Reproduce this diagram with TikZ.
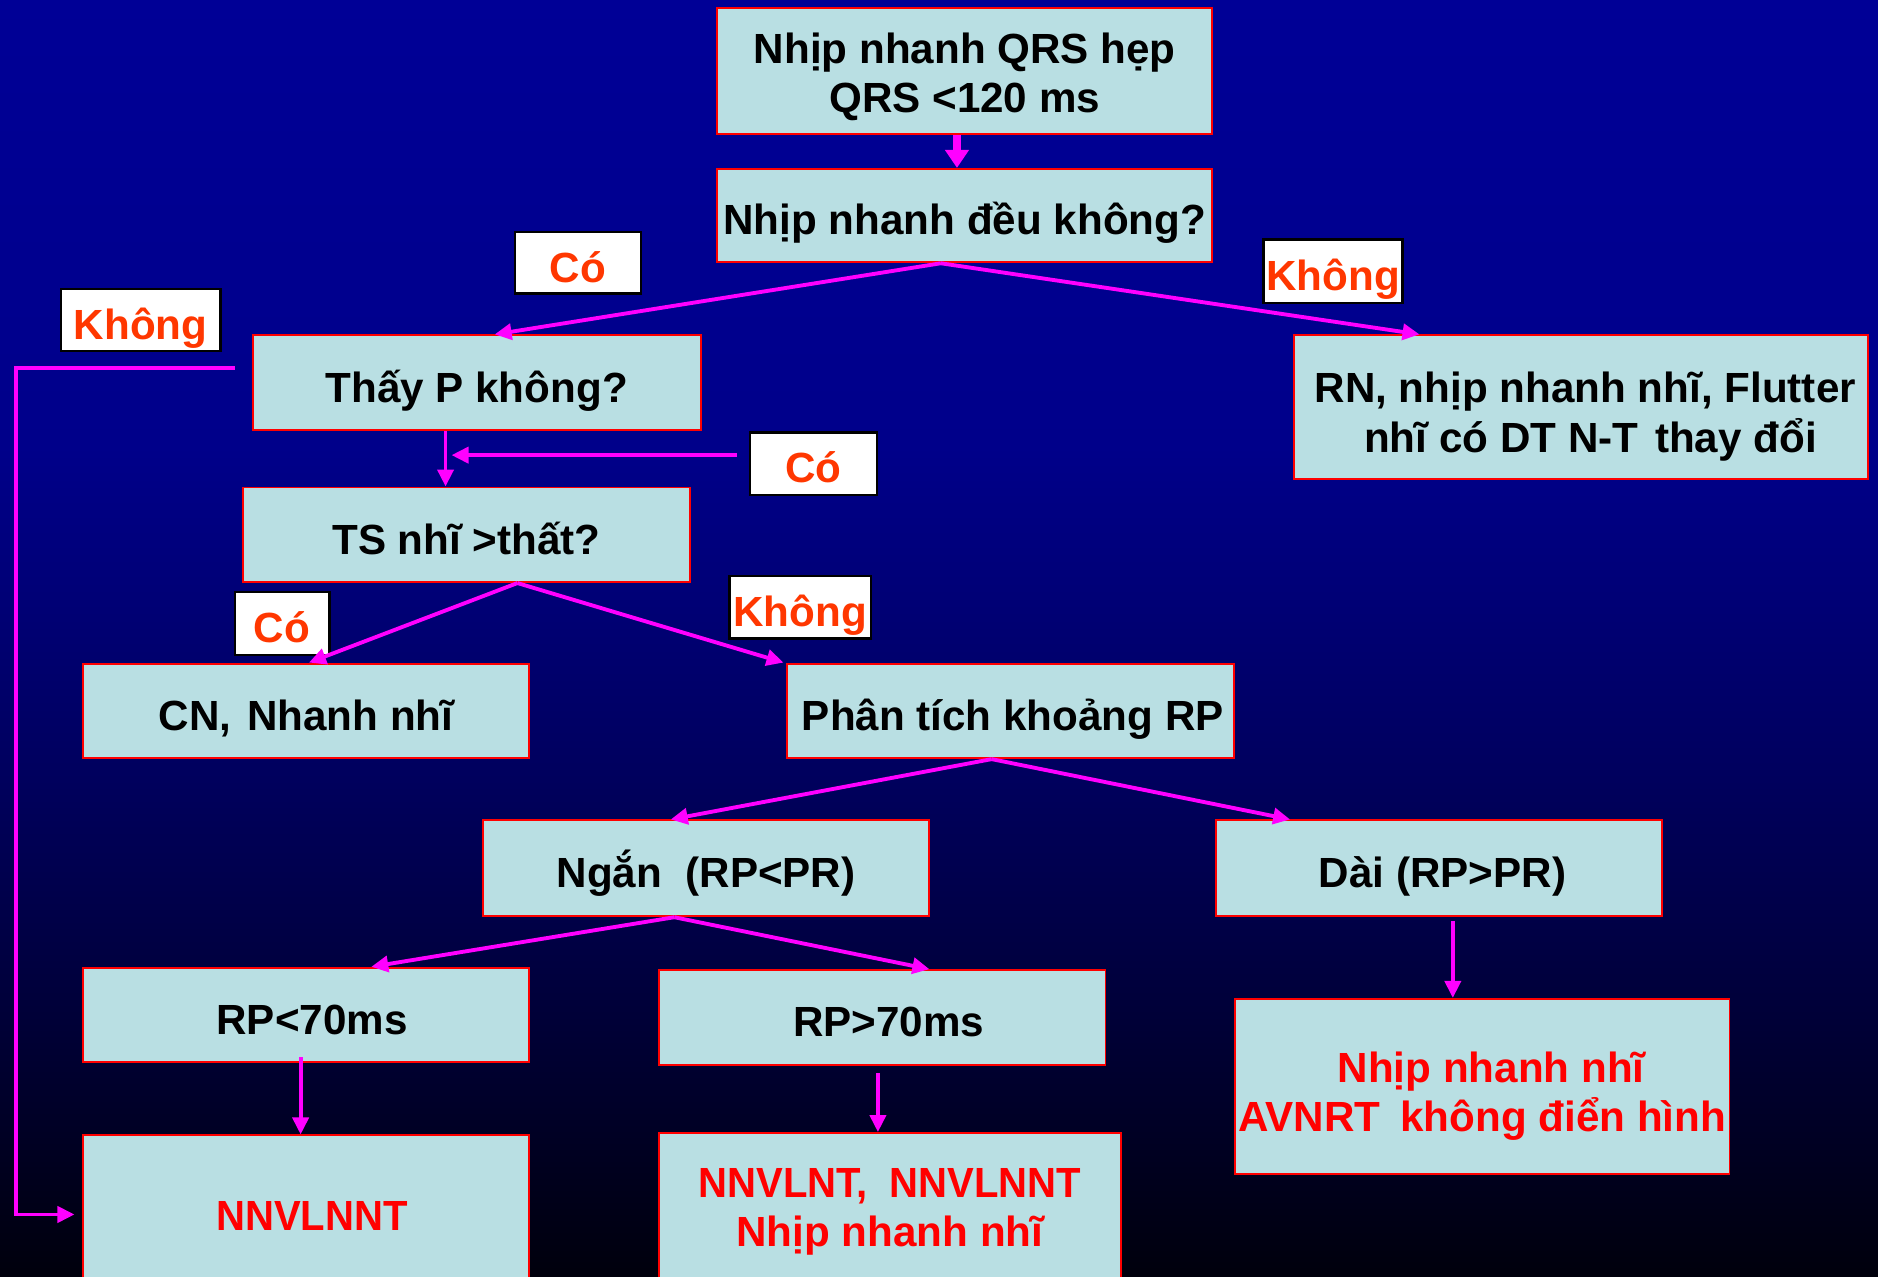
\documentclass[tikz,border=0pt]{standalone}
\usepackage{fontspec}
\setmainfont{Liberation Sans}
\usetikzlibrary{arrows.meta,calc}

\definecolor{bgtop}{RGB}{0,0,150}
\definecolor{bgmidA}{RGB}{0,0,138}
\definecolor{bgmidB}{RGB}{0,0,95}
\definecolor{bgmidC}{RGB}{0,0,55}
\definecolor{bgbot}{RGB}{0,0,12}
\definecolor{boxfill}{RGB}{185,223,227}
\definecolor{boxred}{RGB}{255,0,0}
\definecolor{labred}{RGB}{255,55,0}
\definecolor{arrmag}{RGB}{255,0,255}

% background: navy fading to black towards the bottom
\pgfdeclareverticalshading{bgshade}{100bp}{%
  color(0bp)=(bgbot); color(25bp)=(bgbot); color(35bp)=(bgmidC);
  color(45bp)=(bgmidB); color(57.5bp)=(bgmidA); color(75bp)=(bgtop);
  color(100bp)=(bgtop)}

\newcommand{\pxu}{0.023954cm}
% fixed line box so every single-line text sits at the same height in its box
\newcommand{\topstrut}{\rule{0pt}{1.13em}}
\newcommand{\botstrut}{\rule[-0.21em]{0pt}{0pt}}
% height of the first line in two-line boxes
\newcommand{\firstline}[1]{\rule{0pt}{#1em}}
\newcommand{\narrowcaps}[1]{\scalebox{0.95}[1]{#1}}

\tikzset{
  txt/.style={font=\bfseries\fontsize{24}{28}\selectfont,
    execute at begin node=\topstrut, execute at end node=\botstrut},
  box/.style={txt, draw=boxred, fill=boxfill, line width=1.1pt, inner sep=0pt,
    align=center, text=black},
  endbox/.style={box, text=boxred},
  lab/.style={txt, draw=black, fill=white, line width=1.3pt, inner sep=0pt,
    text=labred},
  arr/.style={draw=arrmag, line width=2.2pt,
    -{Triangle[length=0.34cm,width=0.32cm]}},
}

\begin{document}
\begin{tikzpicture}[x=\pxu, y=-\pxu]
\useasboundingbox (0,0) rectangle (1568,1066);
\shade[shading=bgshade] (0,0) rectangle (1568,1066);

% decision and result boxes
\node[box, minimum width=413*\pxu, minimum height=105*\pxu] (qrs) at (805.5,59.5)
  {\firstline{1.01}Nhịp nhanh QRS hẹp\\QRS <120 ms};
\node[box, minimum width=413*\pxu, minimum height=78*\pxu] (reg) at (805.5,180)
  {Nhịp nhanh đều không?};
\node[box, minimum width=374*\pxu, minimum height=79*\pxu] (seep) at (398,319.5)
  {Thấy P không?};
\node[box, minimum width=480*\pxu, minimum height=120*\pxu] (rn) at (1320,340)
  {\hspace{0.17cm}\firstline{1.17}RN, nhịp nhanh nhĩ, Flutter\\
   \hspace{0.38cm}nhĩ có DT N-T\hspace{0.12em} thay đổi};
\node[box, minimum width=373*\pxu, minimum height=79*\pxu] (ts) at (389.5,446.5)
  {TS nhĩ >thất?};
\node[box, minimum width=373*\pxu, minimum height=79*\pxu] (cn) at (255.5,593.5)
  {CN,\hspace{0.1em} Nhanh nhĩ};
\node[box, minimum width=373*\pxu, minimum height=79*\pxu] (rp) at (843.5,593.5)
  {\hspace{0.1cm}Phân tích khoảng RP};
\node[box, minimum width=373*\pxu, minimum height=80*\pxu] (short) at (589.5,725)
  {Ngắn\ \ (RP<PR)};
\node[box, minimum width=373*\pxu, minimum height=80*\pxu] (long) at (1201.5,725)
  {\hspace{0.14cm}Dài (RP>PR)};
\node[box, minimum width=373*\pxu, minimum height=79*\pxu] (lt) at (255.5,847.5)
  {\hspace{0.24cm}RP<70ms};
\node[box, minimum width=373*\pxu, minimum height=79*\pxu] (gt) at (736.5,849.5)
  {\hspace{0.26cm}RP>70ms};
\node[endbox, minimum width=373*\pxu, minimum height=126*\pxu] (nn1) at (255.5,1011)
  {\hspace{0.24cm}\narrowcaps{NNVLNNT}};
\node[endbox, minimum width=386*\pxu, minimum height=124*\pxu] (nn2) at (743,1008)
  {\firstline{0.89}\narrowcaps{NNVLNT,\ \ NNVLNNT}\\Nhịp nhanh nhĩ};
\node[endbox, minimum width=413*\pxu, minimum height=146*\pxu] (avn) at (1237.5,907)
  {\hspace{0.36cm}\firstline{1.2}Nhịp nhanh nhĩ\\AVNRT\hspace{0.2em} không điển hình};

% yes / no labels
\node[lab, minimum width=105*\pxu, minimum height=51*\pxu] (co1) at (482.5,219.5) {Có};
\node[lab, minimum width=116*\pxu, minimum height=53*\pxu] (kh1) at (1113,226.5) {Không};
\node[lab, minimum width=133*\pxu, minimum height=52*\pxu] (kh2) at (117.5,267) {Không};
\node[lab, minimum width=106*\pxu, minimum height=52*\pxu] (co2) at (679,387) {Có};
\node[lab, minimum width=79*\pxu, minimum height=53*\pxu] (co3) at (235.5,520.5) {Có};
\node[lab, minimum width=118*\pxu, minimum height=52*\pxu] (kh3) at (668,507) {Không};

% connectors
\draw[arr, line width=4.6pt, -{Triangle[length=0.36cm,width=0.46cm]}]
  ([xshift=-6.5*\pxu]qrs.south) -- ([xshift=-6.5*\pxu]reg.north);

\coordinate (regb) at ([xshift=-20*\pxu]reg.south);
\draw[arr] (regb) -- ([xshift=15*\pxu]seep.north);
\draw[arr] (regb) -- ([xshift=106*\pxu]rn.north west);

\coordinate (pdown) at ([xshift=-26*\pxu]seep.south);
\draw[arr] (pdown) -- (pdown |- ts.north);
\draw[arr] ([xshift=-10*\pxu, yshift=7*\pxu]co2.west)
  -- ([xshift=5*\pxu, yshift=7*\pxu]co2.west -| pdown);

\coordinate (loopc) at (13,307);
\draw[arr] ([xshift=-14*\pxu, yshift=12.5*\pxu]seep.west) -- (loopc)
  |- ([xshift=-6*\pxu, yshift=-3*\pxu]nn1.west);

\coordinate (tsb) at ([xshift=42.5*\pxu]ts.south);
\draw[arr] (tsb) -- ([xshift=2.5*\pxu]cn.north);
\draw[arr] (tsb) -- ([xshift=-2*\pxu]rp.north west);

\coordinate (rpb) at ([xshift=-15.5*\pxu]rp.south);
\draw[arr] (rpb) -- ([xshift=-29.5*\pxu]short.north);
\draw[arr] (rpb) -- ([xshift=63*\pxu]long.north west);

\coordinate (shb) at ([xshift=-26.5*\pxu]short.south);
\draw[arr] (shb) -- ([xshift=54.5*\pxu]lt.north);
\draw[arr] (shb) -- ([xshift=39.5*\pxu]gt.north);

\draw[arr] ([xshift=-4.5*\pxu, yshift=5*\pxu]lt.south)
  -- ([xshift=-4.5*\pxu]lt.south |- nn1.north);
\draw[arr] ([xshift=-3.5*\pxu, yshift=-6*\pxu]gt.south)
  -- ([xshift=-3.5*\pxu]gt.south |- nn2.north);
\draw[arr] ([xshift=11.5*\pxu, yshift=-3*\pxu]long.south)
  -- ([xshift=11.5*\pxu]long.south |- avn.north);
\end{tikzpicture}
\end{document}
